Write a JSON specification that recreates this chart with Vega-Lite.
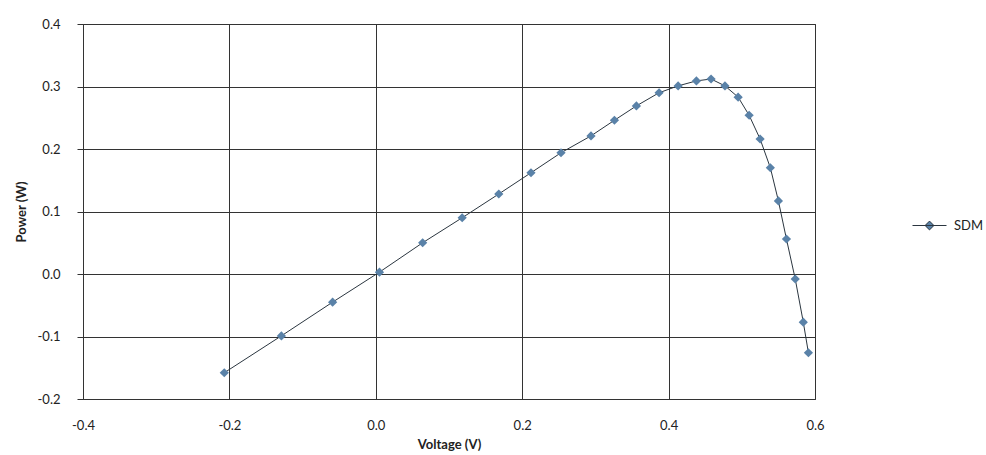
{
  "$schema": "https://vega.github.io/schema/vega-lite/v6.json",
  "autosize": "none",
  "width": 732,
  "height": 375,
  "padding": {"left": 83, "top": 24, "right": 171, "bottom": 56},
  "background": "#ffffff",
  "config": {
    "locale": {"number": {"decimal": ".", "thousands": ",", "grouping": [3], "currency": ["$", ""], "minus": "-"}},
    "view": {"stroke": "#333333", "strokeWidth": 1},
    "font": "Lato",
    "axis": {
      "gridColor": "#333333",
      "gridOpacity": 1,
      "gridWidth": 1,
      "domain": false,
      "labelFont": "Lato",
      "labelFontSize": 13,
      "labelColor": "#222222",
      "titleFont": "Lato",
      "titleFontSize": 13,
      "titleFontWeight": "bold",
      "titleColor": "#222222"
    }
  },
  "data": {
    "values": [
      {"v": -0.207, "p": -0.158, "s": "SDM"},
      {"v": -0.129, "p": -0.099, "s": "SDM"},
      {"v": -0.059, "p": -0.045, "s": "SDM"},
      {"v": 0.005, "p": 0.003, "s": "SDM"},
      {"v": 0.064, "p": 0.050, "s": "SDM"},
      {"v": 0.118, "p": 0.090, "s": "SDM"},
      {"v": 0.168, "p": 0.128, "s": "SDM"},
      {"v": 0.212, "p": 0.162, "s": "SDM"},
      {"v": 0.253, "p": 0.194, "s": "SDM"},
      {"v": 0.294, "p": 0.221, "s": "SDM"},
      {"v": 0.326, "p": 0.246, "s": "SDM"},
      {"v": 0.356, "p": 0.269, "s": "SDM"},
      {"v": 0.387, "p": 0.290, "s": "SDM"},
      {"v": 0.413, "p": 0.301, "s": "SDM"},
      {"v": 0.438, "p": 0.309, "s": "SDM"},
      {"v": 0.458, "p": 0.312, "s": "SDM"},
      {"v": 0.477, "p": 0.301, "s": "SDM"},
      {"v": 0.495, "p": 0.283, "s": "SDM"},
      {"v": 0.510, "p": 0.254, "s": "SDM"},
      {"v": 0.525, "p": 0.216, "s": "SDM"},
      {"v": 0.539, "p": 0.170, "s": "SDM"},
      {"v": 0.550, "p": 0.117, "s": "SDM"},
      {"v": 0.561, "p": 0.056, "s": "SDM"},
      {"v": 0.573, "p": -0.008, "s": "SDM"},
      {"v": 0.584, "p": -0.077, "s": "SDM"},
      {"v": 0.591, "p": -0.126, "s": "SDM"}
    ]
  },
  "encoding": {
    "x": {
      "field": "v", "type": "quantitative",
      "scale": {"domain": [-0.4, 0.6], "nice": false, "zero": false},
      "axis": {"title": "Voltage (V)", "values": [-0.4, -0.2, 0, 0.2, 0.4, 0.6], "format": ".1f", "ticks": false, "labelPadding": 20, "titlePadding": 6, "labelFlush": false}
    },
    "y": {
      "field": "p", "type": "quantitative",
      "scale": {"domain": [-0.2, 0.4], "nice": false, "zero": false},
      "axis": {"title": "Power (W)", "values": [-0.2, -0.1, 0, 0.1, 0.2, 0.3, 0.4], "format": ".1f", "ticks": true, "tickSize": 6, "tickColor": "#333333", "labelPadding": 17, "titlePadding": 9, "labelFlush": false}
    }
  },
  "layer": [
    {
      "mark": {"type": "line", "color": "#2b3640", "strokeWidth": 1},
      "encoding": {"order": {"field": "v"}}
    },
    {
      "mark": {"type": "point", "shape": "diamond", "filled": true, "size": 85, "opacity": 1},
      "encoding": {
        "color": {
          "field": "s", "type": "nominal",
          "scale": {"range": ["#5a82a8"]},
          "legend": {
            "title": null,
            "orient": "none",
            "legendX": 829,
            "legendY": 184,
            "symbolType": "M-1,0H1M0,-0.26L0.26,0L0,0.26L-0.26,0Z",
            "symbolSize": 1156,
            "symbolStrokeColor": "#2b3640",
            "symbolStrokeWidth": 1,
            "symbolFillColor": "#5a82a8",
            "labelFont": "Lato",
            "labelFontSize": 13,
            "labelColor": "#222222",
            "labelOffset": 7,
            "padding": 0
          }
        }
      }
    }
  ]
}
